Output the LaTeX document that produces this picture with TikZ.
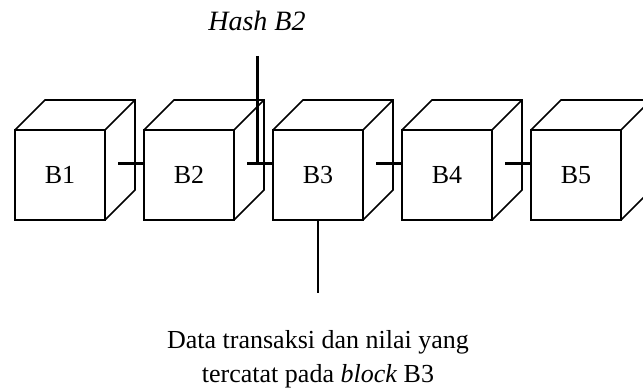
\documentclass[tikz,border=0pt]{standalone}
\usepackage{fontspec}
\setmainfont{Liberation Serif}
\usetikzlibrary{positioning}

\tikzset{
  block/.style={draw, line width=0.8pt, minimum size=45pt, inner sep=0pt, outer sep=0pt},
  link/.style={line width=1.5pt},
}

\begin{document}
\begin{tikzpicture}[x=0.5pt, y=-0.5pt, font=\fontsize{13}{17}\selectfont]
    \useasboundingbox (0,0) rectangle (643,390);

    % the chain of blocks (front faces)
    \node[block] (b1) at (60,175) {B1};
    \node[block, right=19.5pt of b1] (b2) {B2};
    \node[block, right=19.5pt of b2] (b3) {B3};
    \node[block, right=19.5pt of b3] (b4) {B4};
    \node[block, right=19.5pt of b4] (b5) {B5};

    % top and side of every cube
    \foreach \b in {b1,b2,b3,b4,b5}
        \draw[line width=0.8pt] (\b.north west) -- ++(15pt,15pt) -- ++(45pt,0pt) -- ++(0pt,-45pt) -- (\b.south east)
            (\b.north east) -- ++(15pt,15pt);

    % links between neighbours
    \foreach \a/\b in {b1/b2,b2/b3,b3/b4,b4/b5}
        \draw[link] ([xshift=6.5pt,yshift=5.5pt]\a.east) -- ([yshift=5.5pt]\b.west);

    \coordinate (h) at ([xshift=11.5pt,yshift=5.5pt]b2.east);
    \node[font=\fontsize{14}{17}\itshape, anchor=base] (hash) at ([yshift=66.5pt]h) {Hash B2};
    \draw[link] ([yshift=-12.5pt]hash.base) -- (h);

    \node[align=center, anchor=north, inner sep=0pt] (data) at ([yshift=-55pt]b3.south)
        {Data transaksi dan nilai yang\\ tercatat pada \textit{block} B3};
    \draw[line width=0.8pt] (b3.south) -- ([yshift=18.5pt]data.north);

\end{tikzpicture}
\end{document}
